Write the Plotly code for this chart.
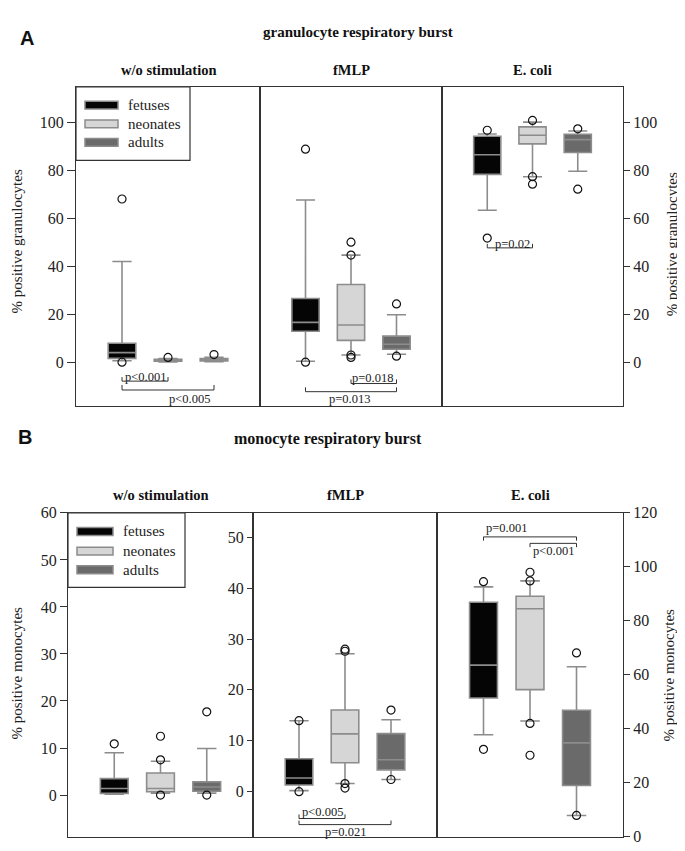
import plotly.graph_objects as go

W, H = 685, 851
GROUPS = ["fetuses", "neonates", "adults"]
GROUP_POS = [1, 2, 3]
FILL = ["#050505", "#d6d6d6", "#6a6a6a"]
EDGE = "#8c8c8c"
SERIF = "Liberation Serif"

# ---------------- data ----------------
# Panel A: granulocyte respiratory burst (% positive granulocytes)
gran_wo = {"lower": [0.6, 0.1, 0.2], "q1": [1.6, 0.4, 0.5], "median": [4.0, 0.8, 1.0],
           "q3": [7.9, 1.2, 1.5], "upper": [42.0, 1.5, 2.0]}
gran_wo_out = [[68.1, 0.0], [2.0], [3.2]]

gran_fmlp = {"lower": [0.4, 3.0, 3.3], "q1": [12.9, 9.1, 5.4], "median": [16.6, 15.5, 7.5],
             "q3": [26.6, 32.4, 10.9], "upper": [67.7, 44.7, 19.8]}
gran_fmlp_out = [[88.9, 0.0], [50.1, 44.7, 3.0, 2.0], [24.3, 2.5]]

gran_ecoli = {"lower": [63.4, 77.4, 79.7], "q1": [78.4, 91.1, 87.5], "median": [86.6, 94.7, 92.9],
              "q3": [94.3, 98.2, 95.1], "upper": [95.2, 100.2, 96.5]}
gran_ecoli_out = [[96.8, 51.8], [100.9, 77.4, 74.3], [97.4, 72.2]]

# Panel B: monocyte respiratory burst (% positive monocytes)
mono_wo = {"lower": [0.2, 0.4, 0.4], "q1": [0.35, 0.7, 0.8], "median": [1.4, 1.4, 1.7],
           "q3": [3.5, 4.7, 2.8], "upper": [9.0, 7.2, 9.9]}
mono_wo_out = [[10.9], [12.5, 7.5, 0.0], [17.7, 0.0]]

mono_fmlp = {"lower": [0.1, 1.5, 2.3], "q1": [1.2, 5.6, 4.2], "median": [2.6, 11.3, 6.2],
             "q3": [6.4, 16.0, 11.35], "upper": [13.9, 27.1, 14.1]}
mono_fmlp_out = [[13.9, -0.1], [28.0, 27.6, 1.5, 0.6], [16.0, 2.3]]

mono_ecoli = {"lower": [37.8, 42.9, 7.9], "q1": [51.4, 54.5, 19.0], "median": [63.6, 84.5, 34.8],
              "q3": [86.9, 89.1, 46.9], "upper": [92.6, 94.8, 63.0]}
mono_ecoli_out = [[94.5, 32.4], [98.0, 94.8, 42.0, 30.2], [68.1, 7.9]]

GRAN_TICKS = [0, 20, 40, 60, 80, 100]
MONO_WO_TICKS = [0, 10, 20, 30, 40, 50, 60]
MONO_FMLP_TICKS = [0, 10, 20, 30, 40, 50]
MONO_ECOLI_TICKS = [0, 20, 40, 60, 80, 100, 120]

# significance brackets: (group a, group b, line y, tip y, label, label x, label y)
gran_wo_sig = [(1, 2, -7.9, -6.2, "p<0.001", 1.5, -6.0),
               (1, 3, -11.6, -9.5, "p<0.005", 2.47, -15.4)]
gran_fmlp_sig = [(2, 3, -8.9, -7.2, "p=0.018", 2.48, -6.8),
                 (1, 3, -12.3, -10.5, "p=0.013", 1.96, -15.3)]
gran_ecoli_sig = [(1, 2, 47.7, 49.4, "p=0.02", 1.55, 49.3)]
mono_wo_sig = []
mono_fmlp_sig = [(1, 2, -5.4, -4.6, "p<0.005", 1.5, -4.2),
                 (1, 3, -6.6, -5.8, "p=0.021", 2.02, -8.1)]
mono_ecoli_sig = [(1, 3, 111.1, 109.7, "p=0.001", 1.5, 114.3),
                  (2, 3, 108.7, 107.3, "p<0.001", 2.5, 105.8)]

# ---------------- layout of the six panels (pixels) ----------------
PANELS = [
    dict(stats=gran_wo, out=gran_wo_out, sig=gran_wo_sig, xpx=(68, 252), ypx=(72.3, 398),
         yr=(-18.3, 114.9), ticks=GRAN_TICKS, side="left", ticklen=8, sub="w/o stimulation", sub_y=55),
    dict(stats=gran_fmlp, out=gran_fmlp_out, sig=gran_fmlp_sig, xpx=(252, 434), ypx=(72.3, 398),
         yr=(-18.3, 114.9), ticks=None, side="left", ticklen=0, sub="fMLP", sub_y=55),
    dict(stats=gran_ecoli, out=gran_ecoli_out, sig=gran_ecoli_sig, xpx=(434, 615), ypx=(72.3, 398),
         yr=(-18.3, 114.9), ticks=GRAN_TICKS, side="right", ticklen=6, sub="E. coli", sub_y=55),
    dict(stats=mono_wo, out=mono_wo_out, sig=mono_wo_sig, xpx=(60, 245), ypx=(507, 837.5),
         yr=(-8.87, 60), ticks=MONO_WO_TICKS, side="left", ticklen=7, sub="w/o stimulation", sub_y=489),
    dict(stats=mono_fmlp, out=mono_fmlp_out, sig=mono_fmlp_sig, xpx=(245, 429), ypx=(507, 837.5),
         yr=(-9.0, 54.9), ticks=MONO_FMLP_TICKS, side="left", ticklen=5, sub="fMLP", sub_y=489),
    dict(stats=mono_ecoli, out=mono_ecoli_out, sig=mono_ecoli_sig, xpx=(429, 615), ypx=(507, 837.5),
         yr=(0, 120), ticks=MONO_ECOLI_TICKS, side="right", ticklen=6, sub="E. coli", sub_y=489),
]


def px_x(v):
    return v / W


def px_y(v):
    return 1 - v / H


fig = go.Figure()
annotations = []
shapes = []
layout = {}

for i, p in enumerate(PANELS, start=1):
    xa = "x" if i == 1 else f"x{i}"
    ya = "y" if i == 1 else f"y{i}"
    st = p["stats"]
    for g in range(3):
        fig.add_trace(go.Box(
            x=[GROUP_POS[g]], q1=[st["q1"][g]], median=[st["median"][g]], q3=[st["q3"][g]],
            lowerfence=[st["lower"][g]], upperfence=[st["upper"][g]],
            width=0.6, whiskerwidth=0.7, fillcolor=FILL[g],
            line=dict(color=EDGE, width=1.6), boxpoints=False,
            name=GROUPS[g], showlegend=False, hoverinfo="skip",
            xaxis=xa, yaxis=ya))
        outs = p["out"][g]
        fig.add_trace(go.Scatter(
            x=[GROUP_POS[g]] * len(outs), y=outs, mode="markers",
            marker=dict(symbol="circle-open", size=8, color="#111", line=dict(width=1.2)),
            showlegend=False, hoverinfo="skip", xaxis=xa, yaxis=ya))

    xkey = "xaxis" if i == 1 else f"xaxis{i}"
    ykey = "yaxis" if i == 1 else f"yaxis{i}"
    layout[xkey] = dict(domain=[px_x(p["xpx"][0]), px_x(p["xpx"][1])], range=[0, 4],
                        anchor=ya, showticklabels=False, ticks="", showgrid=False,
                        zeroline=False, showline=True, mirror=True, linecolor="#333",
                        linewidth=1.2, fixedrange=True)
    yax = dict(domain=[px_y(p["ypx"][1]), px_y(p["ypx"][0])], range=list(p["yr"]),
               anchor=xa, side=p["side"], showgrid=False, zeroline=False,
               showline=True, mirror=True, linecolor="#333", linewidth=1.2,
               tickfont=dict(family=SERIF, size=16, color="#222"), fixedrange=True)
    if p["ticks"] is None:
        yax.update(showticklabels=False, ticks="")
    else:
        yax.update(tickvals=p["ticks"], ticks="outside", ticklen=p["ticklen"],
                   tickcolor="#333", tickwidth=1)
    layout[ykey] = yax

    # subplot subtitle
    annotations.append(dict(text="<b>%s</b>" % p["sub"], xref="paper", yref="paper",
                            x=px_x((p["xpx"][0] + p["xpx"][1]) / 2), y=px_y(p["sub_y"]),
                            xanchor="center", yanchor="middle", showarrow=False,
                            font=dict(family=SERIF, size=14.5, color="#111")))

    # significance brackets
    for (a, b, yl, yt, lab, lx, ly) in p["sig"]:
        shapes.append(dict(type="path", xref=xa, yref=ya,
                           path=f"M {a},{yt} L {a},{yl} L {b},{yl} L {b},{yt}",
                           line=dict(color="#333", width=1)))
        annotations.append(dict(text=lab, xref=xa, yref=ya, x=lx, y=ly, showarrow=False,
                                xanchor="center", yanchor="middle",
                                font=dict(family=SERIF, size=12.5, color="#222")))

# titles and panel letters
annotations += [
    dict(text="<b>A</b>", x=px_x(10), y=px_y(22), xanchor="left", yanchor="middle",
         font=dict(family="Liberation Sans", size=20, color="#111")),
    dict(text="<b>granulocyte respiratory burst</b>", x=px_x(350), y=px_y(16),
         xanchor="center", yanchor="middle", font=dict(family=SERIF, size=15, color="#111")),
    dict(text="<b>B</b>", x=px_x(8), y=px_y(430), xanchor="left", yanchor="middle",
         font=dict(family="Liberation Sans", size=20, color="#111")),
    dict(text="<b>monocyte respiratory burst</b>", x=px_x(320), y=px_y(432),
         xanchor="center", yanchor="middle", font=dict(family=SERIF, size=16, color="#111")),
    dict(text="% positive granulocytes", x=px_x(9), y=px_y(230), textangle=-90,
         xanchor="center", yanchor="middle", font=dict(family=SERIF, size=15, color="#222")),
    dict(text="% positive granulocytes", x=px_x(664), y=px_y(233), textangle=-90,
         xanchor="center", yanchor="middle", font=dict(family=SERIF, size=15, color="#222")),
    dict(text="% positive monocytes", x=px_x(9), y=px_y(671), textangle=-90,
         xanchor="center", yanchor="middle", font=dict(family=SERIF, size=15, color="#222")),
    dict(text="% positive monocytes", x=px_x(661), y=px_y(673), textangle=-90,
         xanchor="center", yanchor="middle", font=dict(family=SERIF, size=15, color="#222")),
]
for a in annotations[-8:]:
    a.update(xref="paper", yref="paper", showarrow=False)

# hand-drawn legends (one per panel row)
LEGENDS = [dict(box=(68, 72.3, 182, 147.3), sw=(77, 110), rows=(91, 110, 129), lx=118),
           dict(box=(60, 507, 177, 583), sw=(69, 105), rows=(526, 546, 565), lx=113)]
for L in LEGENDS:
    x0, y0, x1, y1 = L["box"]
    shapes.append(dict(type="rect", xref="paper", yref="paper", x0=px_x(x0), x1=px_x(x1),
                       y0=px_y(y1), y1=px_y(y0), line=dict(color="#333", width=1.2),
                       fillcolor="white", layer="above"))
    for g, ry in enumerate(L["rows"]):
        shapes.append(dict(type="rect", xref="paper", yref="paper",
                           x0=px_x(L["sw"][0]), x1=px_x(L["sw"][1]),
                           y0=px_y(ry + 4), y1=px_y(ry - 4), fillcolor=FILL[g],
                           line=dict(color=EDGE, width=1.5), layer="above"))
        annotations.append(dict(text=GROUPS[g], xref="paper", yref="paper", x=px_x(L["lx"]),
                                y=px_y(ry), xanchor="left", yanchor="middle", showarrow=False,
                                font=dict(family=SERIF, size=15, color="#222")))

fig.update_layout(width=W, height=H, margin=dict(l=0, r=0, t=0, b=0),
                  paper_bgcolor="white", plot_bgcolor="white", boxmode="overlay",
                  showlegend=False, annotations=annotations, shapes=shapes, **layout)

fig.write_html("out.html")
